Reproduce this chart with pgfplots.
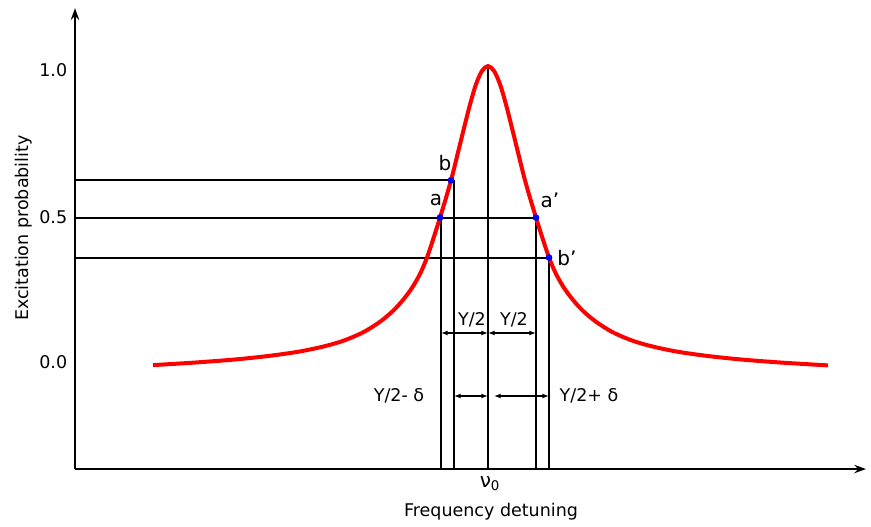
\documentclass[border=0pt]{standalone}
\usepackage{fontspec}
\setmainfont{DejaVu Sans}
\usepackage{pgfplots}
\pgfplotsset{compat=1.18}
\usetikzlibrary{arrows.meta}

% Resonance line: detuning (drawing units) vs. excitation probability
\pgfplotstableread{
x    p
153  0.013
193  0.021
233  0.031
268  0.043
298  0.057
323  0.074
343  0.093
363  0.121
380  0.156
393  0.192
403  0.228
412  0.268
420  0.314
427  0.368
434  0.437
440  0.500
446  0.565
452  0.635
458  0.715
464  0.795
470  0.873
476  0.940
482  0.984
488  1.000
494  0.984
500  0.940
506  0.873
512  0.795
518  0.715
524  0.635
530  0.565
536  0.500
542  0.437
549  0.368
556  0.314
564  0.268
573  0.228
583  0.192
596  0.156
613  0.121
633  0.093
653  0.074
678  0.057
708  0.043
743  0.031
783  0.021
828  0.012
}\curve

% Marked points a, b, a', b'
\pgfplotstableread{
x    p
440  0.500
451  0.623
536  0.500
549  0.368
}\marked

\begin{document}
\fontsize{10.5}{12}\selectfont
\begin{tikzpicture}
\begin{axis}[
  x=0.6pt, y=181.8pt,
  xmin=75, xmax=866, ymin=-0.330, ymax=1.191,
  axis lines=left,
  axis line style={line width=1.1pt, -{Stealth[length=7pt,width=5pt]}},
  clip=false,
  xtick=\empty,
  ytick={0.023,0.5,0.987},
  yticklabels={0.0,0.5,1.0},
  major tick length=0pt,
  yticklabel style={anchor=east, xshift=-1pt, font=\fontsize{10.5}{12}\selectfont},
]
  % page frame
  \path (axis cs:0,1.218) rectangle (axis cs:871,-0.512);

  % guide lines
  \pgfplotsset{guide/.style={black, line width=1.2pt}}
  \addplot[guide] coordinates {(75,0.623) (454,0.623)};
  \addplot[guide] coordinates {(75,0.500) (536,0.500)};
  \addplot[guide] coordinates {(75,0.368) (549,0.368)};
  \addplot[guide] coordinates {(441,0.500) (441,-0.330)};
  \addplot[guide] coordinates {(454,0.623) (454,-0.330)};
  \addplot[guide] coordinates {(488,1.000) (488,-0.330)};
  \addplot[guide] coordinates {(536,0.500) (536,-0.330)};
  \addplot[guide] coordinates {(549,0.368) (549,-0.330)};

  % width arrows
  \pgfplotsset{dim/.style={black, line width=0.9pt,
      {Latex[length=4pt,width=3pt]}-{Latex[length=4pt,width=3pt]}}}
  \addplot[dim] coordinates {(441,0.119) (488,0.119)};
  \addplot[dim] coordinates {(488,0.119) (536,0.119)};
  \addplot[dim] coordinates {(454,-0.089) (488,-0.089)};
  \addplot[dim] coordinates {(494,-0.089) (549,-0.089)};

  % resonance curve
  \addplot[red, line width=2.4pt, smooth, tension=0.5] table[x=x, y=p] {\curve};

  % marked points
  \addplot[only marks, mark=*, mark size=1.8pt, blue] table[x=x, y=p] {\marked};

  % labels
  \begin{scope}[font=\fontsize{12}{14}\selectfont]
    \node at (axis cs:445,0.680) {b};
    \node at (axis cs:436,0.558) {a};
    \node at (axis cs:550,0.558) {a'};
    \node at (axis cs:567,0.368) {b'};
  \end{scope}
  \node at (axis cs:472,0.162) {Y/2};
  \node at (axis cs:514,0.162) {Y/2};
  \node at (axis cs:399,-0.089) {Y/2- δ};
  \node at (axis cs:589,-0.089) {Y/2+ δ};
  \node[font=\fontsize{12}{14}\selectfont] at (axis cs:490,-0.378) {ν\textsubscript{0}};
  \node at (axis cs:491,-0.472) {Frequency detuning};
  \node[rotate=90] at (axis cs:24,0.465) {Excitation probability};
\end{axis}
\end{tikzpicture}
\end{document}
